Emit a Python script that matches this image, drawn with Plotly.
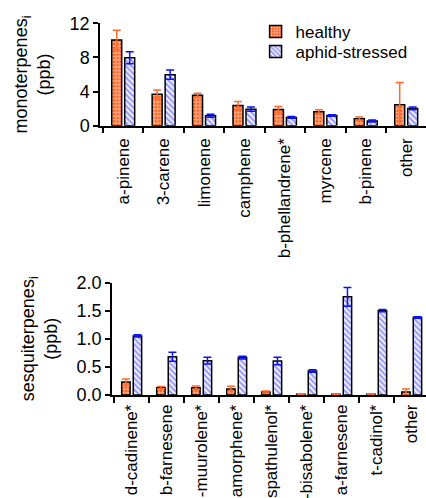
import plotly.graph_objects as go

# ---- data ----
mono_cats = ["a-pinene", "3-carene", "limonene", "camphene", "b-phellandrene*",
             "myrcene", "b-pinene", "other"]
mono_healthy = [10.05, 3.68, 3.56, 2.37, 1.90, 1.63, 0.82, 2.45]
mono_healthy_err = [1.15, 0.50, 0.25, 0.46, 0.35, 0.23, 0.19, 2.60]
mono_stressed = [7.97, 5.98, 1.17, 1.94, 0.97, 1.20, 0.55, 2.02]
mono_stressed_err = [0.71, 0.55, 0.17, 0.24, 0.11, 0.08, 0.11, 0.16]

sesq_cats = ["d-cadinene*", "b-farnesene", "g-muurolene*", "a-amorphene*", "spathulenol*",
             "b-bisabolene*", "a-farnesene", "t-cadinol*", "other"]
sesq_healthy = [0.23, 0.13, 0.13, 0.107, 0.053, 0.015, 0.012, 0.012, 0.053]
sesq_healthy_err = [0.055, 0.02, 0.03, 0.047, 0.017, 0.008, 0.006, 0.006, 0.054]
sesq_stressed = [1.05, 0.68, 0.61, 0.665, 0.605, 0.427, 1.745, 1.50, 1.377]
sesq_stressed_err = [0.02, 0.08, 0.06, 0.025, 0.065, 0.023, 0.165, 0.02, 0.013]

series_names = ["healthy", "aphid-stressed"]

ORANGE = "#FF5A14"
ORANGE_ERR = "#FF6A2A"
BLUE_FG = "#3A3AF5"
BLUE_ERR = "#0A14F0"
FONT = "Liberation Sans, Arial, sans-serif"

fig = go.Figure()

def add_pair(cats, h, he, s, se, xa, ya, show_legend, offs):
    fig.add_trace(go.Bar(
        x=cats, y=h, name=series_names[0], xaxis=xa, yaxis=ya,
        offset=offs[0], width=offs[1], showlegend=show_legend, legend="legend",
        marker=dict(color=ORANGE, line=dict(color="black", width=1.5),
                    pattern=dict(shape="+", fgcolor="white", bgcolor=ORANGE,
                                 size=3.5, solidity=0.55)),
        error_y=dict(type="data", array=he, visible=True, color=ORANGE_ERR,
                     thickness=1.5, width=4),
    ))
    fig.add_trace(go.Bar(
        x=cats, y=s, name=series_names[1], xaxis=xa, yaxis=ya,
        offset=offs[2], width=offs[1], showlegend=show_legend, legend="legend2",
        marker=dict(color="white", line=dict(color="black", width=1.5),
                    pattern=dict(shape="\\", fgcolor=BLUE_FG, bgcolor="white",
                                 size=4, solidity=0.6)),
        error_y=dict(type="data", array=se, visible=True, color=BLUE_ERR,
                     thickness=1.5, width=4),
    ))

add_pair(mono_cats, mono_healthy, mono_healthy_err, mono_stressed, mono_stressed_err,
         "x", "y", True, (-0.284, 0.247, 0.037))
add_pair(sesq_cats, sesq_healthy, sesq_healthy_err, sesq_stressed, sesq_stressed_err,
         "x2", "y2", False, (-0.28, 0.24, 0.05))

W, H = 426, 498
axis_common = dict(showline=True, linecolor="black", linewidth=1.5, ticks="outside",
                   tickcolor="black", tickwidth=1.5, showgrid=False, zeroline=False,
                   automargin=False)
xfont = dict(family=FONT, size=17, color="black")
yfont = dict(family=FONT, size=18, color="black")
tfont = dict(family=FONT, size=18, color="black")
legend_common = dict(xanchor="left", yanchor="top", bgcolor="rgba(0,0,0,0)",
                     font=dict(family=FONT, size=17), itemwidth=30)

fig.update_layout(
    width=W, height=H,
    margin=dict(l=0, r=0, t=0, b=0, autoexpand=False),
    paper_bgcolor="white", plot_bgcolor="white",
    font=dict(family=FONT, size=17, color="black"),
    barmode="overlay",
    showlegend=True,
    legend=dict(x=0.6, y=0.972, **legend_common),
    legend2=dict(x=0.6, y=0.932, **legend_common),
    xaxis=dict(domain=[100 / W, 1], type="category", range=[-0.574, 7.49],
               tickson="boundaries", ticklen=6, tickangle=-90, anchor="y",
               ticklabelstandoff=4, tickfont=xfont, **axis_common),
    yaxis=dict(domain=[1 - 125.7 / H, 1 - 23.3 / H], range=[0, 12], dtick=4,
               ticklen=5, anchor="x", tickfont=yfont,
               title=dict(text="monoterpenes<sub>i</sub><br>(ppb)", font=tfont, standoff=14),
               **axis_common),
    xaxis2=dict(domain=[112 / W, 1], type="category", range=[-0.557, 8.414],
                tickson="boundaries", ticklen=6, tickangle=-90, anchor="y2",
                ticklabelstandoff=1, tickfont=xfont, **axis_common),
    yaxis2=dict(domain=[1 - 395 / H, 1 - 282.5 / H], range=[0, 2], dtick=0.5,
                tickformat=".1f", ticklen=5, anchor="x2", tickfont=yfont,
                title=dict(text="sesquiterpenes<sub>i</sub><br>(ppb)", font=tfont, standoff=14),
                **axis_common),
)

fig.write_html("out.html", config={"displayModeBar": False},
               post_script="document.body.style.margin='0px';document.body.style.overflow='hidden';")
